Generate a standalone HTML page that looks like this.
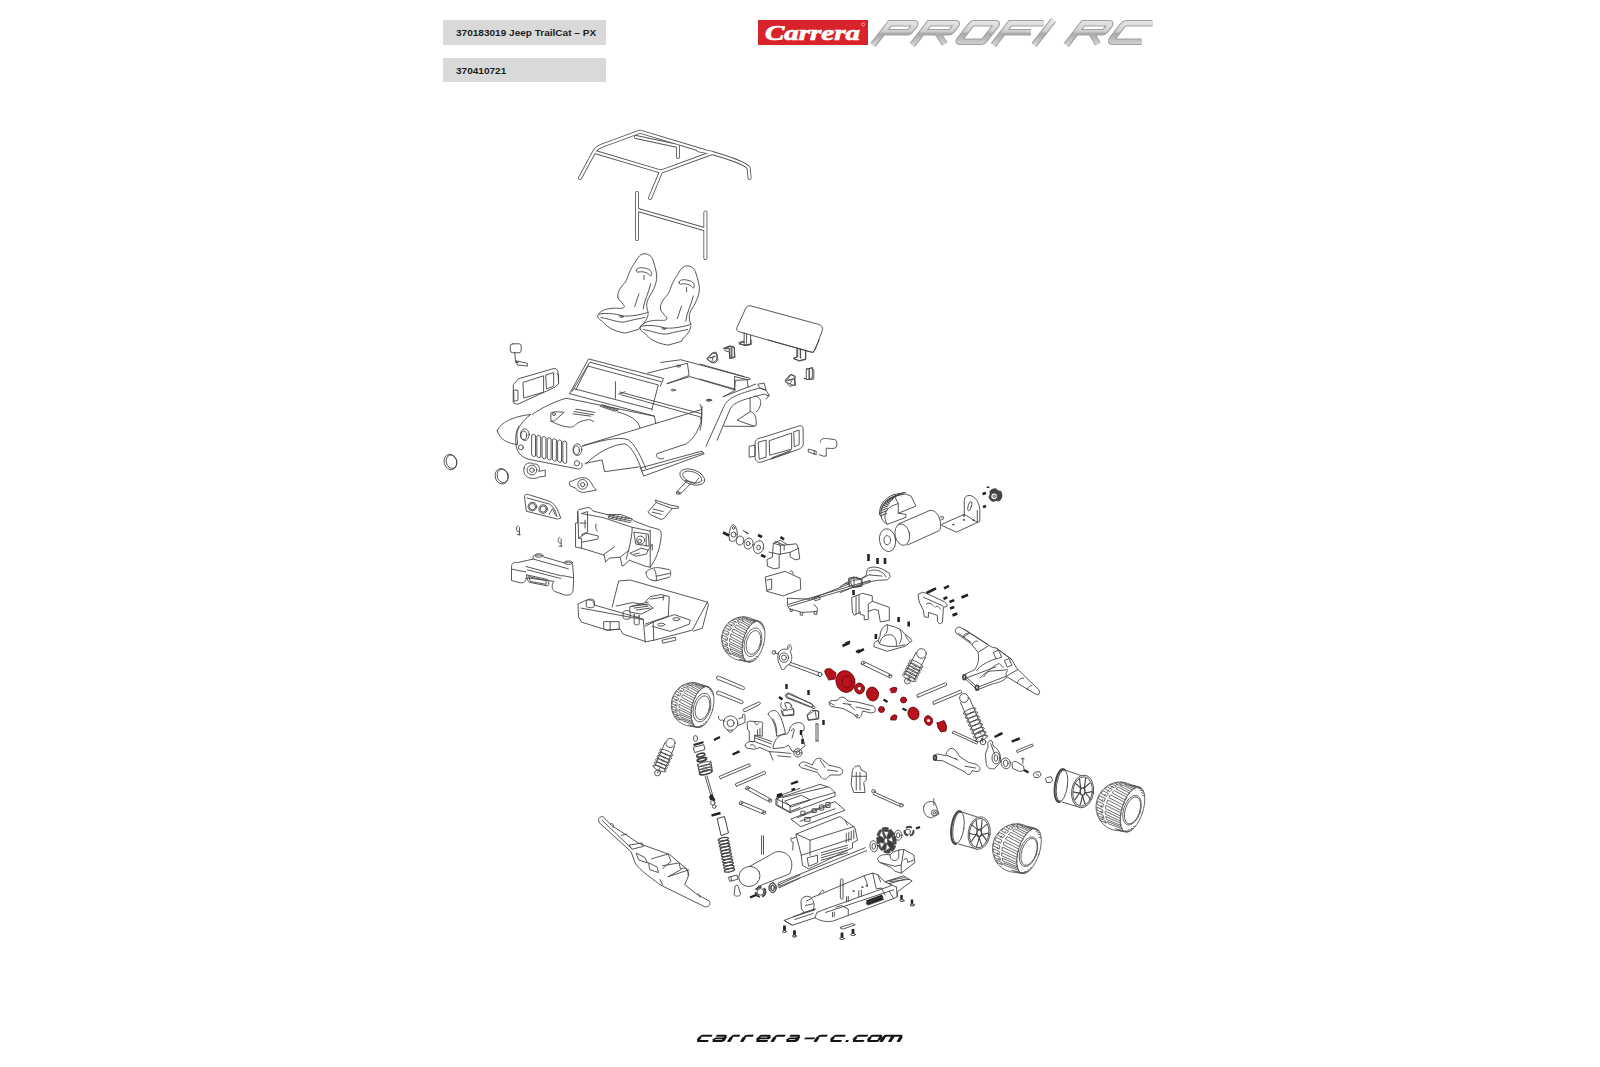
<!DOCTYPE html>
<html><head><meta charset="utf-8">
<style>
html,body{margin:0;padding:0;background:#fff;width:1600px;height:1067px;overflow:hidden;position:relative;font-family:"Liberation Sans",sans-serif;}
.box{position:absolute;left:443px;width:163px;background:#d9d9d9;color:#1c1c1c;font-weight:bold;font-size:9.3px;line-height:25px;}
.box span{position:absolute;left:12.5px;top:0.5px;white-space:nowrap;transform-origin:0 50%;transform:scaleX(1.08);}
svg{position:absolute;left:0;top:0;}
#draw *,defs g[id] *{vector-effect:non-scaling-stroke;}
.tube{stroke:#555;stroke-width:4;}
.tubein{stroke:#fff;stroke-width:2.3;}
</style></head><body>
<div class="box" style="top:20px;height:25px;"><span>370183019 Jeep TrailCat – PX</span></div>
<div class="box" style="top:58px;height:24px;line-height:24px;"><span>370410721</span></div>
<svg width="1600" height="1067" viewBox="0 0 1600 1067">
<defs>
<linearGradient id="silver" gradientUnits="userSpaceOnUse" x1="0" y1="-25" x2="0" y2="0">
<stop offset="0" stop-color="#e8e8e8"/><stop offset="0.45" stop-color="#cfcfcf"/><stop offset="0.55" stop-color="#a9a9a9"/><stop offset="1" stop-color="#d5d5d5"/>
</linearGradient>
<g id="cage"><path d="M50,290 L125,152 Q135,138 160,128 L350,58 L672,155"/>
<path d="M125,160 L455,258 L710,165 Q870,210 893,240 L898,290"/>
<path d="M455,258 L400,390"/>
<path d="M330,85 L540,130 L540,185"/>
<path d="M640,150 L712,165"/>
<path d="M335,365 V595 M677,462 V690 M340,450 L670,545"/></g>
</defs>
<!-- LOGO -->
<g id="logo">
<rect x="758" y="20" width="110" height="25" fill="#d8232a"/>
<text x="765" y="40" textLength="95" lengthAdjust="spacingAndGlyphs" font-family="Liberation Serif" font-style="italic" font-weight="bold" font-size="21" fill="#fff" stroke="#fff" stroke-width="0.7">Carrera</text>
<circle cx="863" cy="24.5" r="1.6" fill="none" stroke="#fff" stroke-width="0.5"/>
<g transform="translate(0,45) skewX(-38)" fill="none" stroke-linejoin="miter">
<defs><g id="profi">
<path d="M873,0 V-21.7 H897.5 Q899.2,-21.7 899.2,-20 V-14.5 Q899.2,-12.8 897.5,-12.8 H873"/>
<path d="M912.3,0 V-21.7 H939 Q940.7,-21.7 940.7,-20 V-14.5 Q940.7,-12.8 939,-12.8 H912.3 M927,-12.8 L944,-1"/>
<path d="M957,-21.7 H979 Q980.7,-21.7 980.7,-20 V-5 Q980.7,-3.3 979,-3.3 H957 Q955.3,-3.3 955.3,-5 V-20 Q955.3,-21.7 957,-21.7 Z"/>
<path d="M993.3,0 V-21.7 H1026.5 M993.3,-12.8 H1021"/>
<path d="M1034,0 V-25"/>
<path d="M1066.3,0 V-21.7 H1092.5 Q1094.2,-21.7 1094.2,-20 V-14.5 Q1094.2,-12.8 1092.5,-12.8 H1066.3 M1081,-12.8 L1097,-1"/>
<path d="M1135.5,-21.7 H1110 Q1107.3,-21.7 1107.3,-19 V-6 Q1107.3,-3.3 1110,-3.3 H1139"/>
</g></defs>
<use href="#profi" stroke="#a0a0a0" stroke-width="6.4"/>
<use href="#profi" stroke="url(#silver)" stroke-width="4.4"/>
</g>
</g>

<!-- FOOTER -->
<g id="footer" fill="none" stroke="#141414" stroke-width="1.9" stroke-linejoin="round">
<path transform="translate(695.75,1042) skewX(-31.5)" d="M12.5,-6.2 H2.6 Q1.3,-6.2 1.3,-5 V-2.2 Q1.3,-0.95 2.6,-0.95 H11.9"/>
<path transform="translate(711.25,1042) skewX(-31.5)" d="M1.2,-6.2 H9.8 Q11.0,-6.2 11.0,-5 V-0.3 M11.0,-0.95 H2.4 Q1.3,-0.95 1.3,-2.1 V-2.5 Q1.3,-3.6 2.4,-3.6 H11.0"/>
<path transform="translate(727,1042) skewX(-31.5)" d="M1.5,-0.1 V-4.9 Q1.5,-6.2 3.1,-6.2 H9"/>
<path transform="translate(740,1042) skewX(-31.5)" d="M1.5,-0.1 V-4.9 Q1.5,-6.2 3.1,-6.2 H9.5"/>
<path transform="translate(755,1042) skewX(-31.5)" d="M12.1,-0.95 H2.6 Q1.3,-0.95 1.3,-2.2 V-5 Q1.3,-6.2 2.6,-6.2 H10.0 Q11.2,-6.2 11.2,-5 V-3.6 H1.3"/>
<path transform="translate(770.5,1042) skewX(-31.5)" d="M1.5,-0.1 V-4.9 Q1.5,-6.2 3.1,-6.2 H11"/>
<path transform="translate(785,1042) skewX(-31.5)" d="M1.2,-6.2 H9.3 Q10.5,-6.2 10.5,-5 V-0.3 M10.5,-0.95 H2.4 Q1.3,-0.95 1.3,-2.1 V-2.5 Q1.3,-3.6 2.4,-3.6 H10.5"/>
<path transform="translate(802,1042) skewX(-31.5)" d="M0.5,-3.6 H10.5"/>
<path transform="translate(813.5,1042) skewX(-31.5)" d="M1.5,-0.1 V-4.9 Q1.5,-6.2 3.1,-6.2 H10"/>
<path transform="translate(829,1042) skewX(-31.5)" d="M12.5,-6.2 H2.6 Q1.3,-6.2 1.3,-5 V-2.2 Q1.3,-0.95 2.6,-0.95 H11.9"/>
<path transform="translate(844.8,1042) skewX(-31.5)" d="M0.3,-0.95 H3"/>
<path transform="translate(851.5,1042) skewX(-31.5)" d="M12.5,-6.2 H2.6 Q1.3,-6.2 1.3,-5 V-2.2 Q1.3,-0.95 2.6,-0.95 H11.9"/>
<path transform="translate(866,1042) skewX(-31.5)" d="M2.6,-6.2 H10.399999999999999 Q11.7,-6.2 11.7,-5 V-2.2 Q11.7,-0.95 10.399999999999999,-0.95 H2.6 Q1.3,-0.95 1.3,-2.2 V-5 Q1.3,-6.2 2.6,-6.2 Z"/>
<path transform="translate(879.5,1042) skewX(-31.5)" d="M1.5,-0.1 V-6.2 H17.2 Q18.5,-6.2 18.5,-5 V-0.1 M10.0,-6.2 V-0.1"/>
<g stroke-width="3.5" stroke-linecap="butt"><path transform="translate(695.75,1042) skewX(-31.5)" d="M1.3,-4.8 V-2.3"/>
<path transform="translate(711.25,1042) skewX(-31.5)" d="M11.0,-5 V-1 M1.3,-2.4 V-2.1"/>
<path transform="translate(727,1042) skewX(-31.5)" d="M1.5,-0.3 V-4.8"/>
<path transform="translate(740,1042) skewX(-31.5)" d="M1.5,-0.3 V-4.8"/>
<path transform="translate(755,1042) skewX(-31.5)" d="M1.3,-4.8 V-2.3 M11.2,-4.9 V-3.6"/>
<path transform="translate(770.5,1042) skewX(-31.5)" d="M1.5,-0.3 V-4.8"/>
<path transform="translate(785,1042) skewX(-31.5)" d="M10.5,-5 V-1 M1.3,-2.4 V-2.1"/>
<path transform="translate(813.5,1042) skewX(-31.5)" d="M1.5,-0.3 V-4.8"/>
<path transform="translate(829,1042) skewX(-31.5)" d="M1.3,-4.8 V-2.3"/>
<path transform="translate(851.5,1042) skewX(-31.5)" d="M1.3,-4.8 V-2.3"/>
<path transform="translate(866,1042) skewX(-31.5)" d="M1.3,-4.8 V-2.3 M11.7,-4.8 V-2.3"/>
<path transform="translate(879.5,1042) skewX(-31.5)" d="M1.5,-0.3 V-6 M18.5,-5 V-0.3 M10.0,-6 V-0.3"/></g>
</g>

<g id="draw" fill="none" stroke="#444" stroke-width="0.9" stroke-linejoin="round" stroke-linecap="round">
<!-- A: roll cage -->
<g transform="translate(570 120) scale(0.2)">
<use href="#cage" class="tube"/><use href="#cage" class="tubein"/>
</g>
<!-- B: seats + board -->
<!-- seats -->
<g transform="translate(590 250) scale(0.08435)">
<g id="seat2">
<path d="M330,560 C320,480 380,430 420,380 C450,330 460,250 520,170 C560,110 580,50 640,45 C700,45 740,80 750,130 C770,200 800,280 790,350 C780,420 740,500 700,560 C670,610 660,660 690,740"/>
<path d="M330,560 C340,600 400,640 410,670 C400,700 340,690 300,690 C200,690 100,720 90,790 C95,820 130,830 150,850 C190,900 260,960 420,985 L580,940 L600,900 C640,880 690,800 690,760"/>
<path d="M110,760 C200,740 320,760 380,780 C450,790 550,780 690,740 M130,800 C250,820 350,870 420,850 C500,830 600,810 650,800"/>
<path d="M550,240 C560,200 620,200 700,230 C730,250 740,290 720,310 C700,280 650,250 580,260 C560,270 550,260 550,240 Z"/>
<path d="M640,300 V350 M580,520 L530,670 M720,400 C700,500 640,600 630,700 M350,780 L400,790 L370,800 Z"/>
</g>
<use href="#seat2" transform="translate(505 143)"/>
</g>

<g transform="translate(580 240) scale(0.1625)">

<path d="M1050,405 Q1030,400 1020,420 L965,540 Q960,560 980,565 L1420,690 Q1435,695 1445,680 L1490,560 Q1500,530 1470,520 Z"/>
<path d="M1010,570 V628 L980,635 L1015,650 L1050,640 V585 M1025,578 V635"/>
<path d="M1340,665 V720 L1312,728 L1350,742 L1388,732 V680 M1358,670 V725"/>
<path d="M785,730 L820,695 L845,705 L840,740 L815,755 Z M805,725 L830,715"/>
<path d="M885,665 L925,652 L950,660 V718 L920,728 V690 L890,680 M935,660 V720"/>
<path d="M1265,870 L1300,828 L1325,838 L1320,890 L1295,900 Z M1280,865 L1310,855"/>
<path d="M1395,795 L1430,785 V850 L1400,858 L1380,850 M1410,800 V850"/>
</g>
<!-- C: jeep body -->
<g transform="translate(490 330) scale(0.1625)">
<path d="M490,392 L607,178 L1068,298 L1048,345"/>
<path d="M505,378 L615,198 L1052,318"/>
<path d="M528,368 L602,222 L1036,338 L995,492"/>
<path d="M520,362 L1000,488"/>
<path d="M490,392 L1012,530 L1020,575"/>
<path d="M260,520 C330,470 420,432 470,420 L1010,530"/>
<path d="M570,712 L1020,575 M783,503 C868,526 914,559 923,601"/>
<path d="M377,510 L397,503 L456,506 L397,559 L377,562 Z M377,562 C410,580 450,595 489,598 C505,598 515,594 521,588 C535,575 555,558 606,552 C620,552 630,558 639,565"/>
<circle cx="394" cy="518" r="9"/>
<path d="M528,487 L645,507 M518,502 L638,522 M511,516 L620,530"/>
<path d="M690,460 L790,490 L770,500 L680,470 Z M700,470 L780,495"/>
<path d="M45,620 C60,570 150,530 250,520 C200,560 170,600 165,640 L170,705 C120,700 60,680 45,620 Z"/>
<path d="M160,705 C165,760 200,790 260,800 L540,855 C560,860 572,840 565,820"/>
<path d="M160,705 C155,660 160,620 178,592"/>
<ellipse cx="214" cy="644" rx="27" ry="36"/><ellipse cx="208" cy="648" rx="18" ry="26"/>
<ellipse cx="538" cy="736" rx="27" ry="36"/><ellipse cx="532" cy="740" rx="18" ry="26"/>
<circle cx="190" cy="722" r="15"/><circle cx="535" cy="820" r="16"/>
<path d="M258,645 Q270,635 280,648 V775 Q270,785 258,772 Z"/>
<path d="M290,652 Q302,642 312,655 V782 Q302,792 290,779 Z"/>
<path d="M322,659 Q334,649 344,662 V789 Q334,799 322,786 Z"/>
<path d="M354,666 Q366,656 376,669 V796 Q366,806 354,793 Z"/>
<path d="M386,673 Q398,663 408,676 V803 Q398,813 386,800 Z"/>
<path d="M418,680 Q430,670 440,683 V810 Q430,820 418,807 Z"/>
<path d="M450,687 Q462,677 472,690 V817 Q462,827 450,814 Z"/>
<path d="M570,715 C650,690 790,650 850,675 C890,700 930,780 960,855"/>
<path d="M590,825 C650,760 750,705 830,700 C870,715 910,790 935,865"/>
<path d="M585,820 L690,800 L705,872 L920,842"/>
<path d="M928,848 L1305,745 L1318,762 L948,898 Z M935,868 L1312,755"/>
<path d="M1020,575 L1300,490"/>
<path d="M1030,760 L1210,700 C1260,660 1280,620 1300,560 L1305,470"/>
<path d="M1025,765 C1020,790 1050,800 1070,790"/>
<path d="M1050,200 L1175,183 L1600,298"/>
<path d="M970,265 L1215,205 L1225,280 L1090,330"/>
<path d="M1090,330 L1230,287 L1505,368 L1510,310 L1600,305"/>
<path d="M800,382 L1300,515 M805,398 L1295,535 L1300,560"/>
<path d="M1440,410 L1510,370"/>
<path d="M772,318 V420 M790,395 L830,380"/>
<ellipse cx="1160" cy="222" rx="12" ry="6"/><ellipse cx="1128" cy="370" rx="14" ry="5"/><ellipse cx="1345" cy="432" rx="14" ry="5"/>
<!-- mirror -->
<path d="M140,85 H180 Q192,85 192,100 V125 Q192,140 178,140 H140 Q125,140 125,125 V100 Q125,85 140,85 Z"/>
<path d="M152,140 L158,200 H175 M165,190 L230,205 V222 L170,215 Z"/>
<!-- door frame left -->
<path d="M145,335 L175,300 L400,235 L418,250 L422,330 L400,352 L168,458 L145,448 Z"/>
<path d="M205,322 L330,282 V382 L210,418 Z M345,276 L392,262 V345 L350,362 Z M148,370 H172 V432 L150,438 Z M412,270 L422,275 V325"/>
<!-- headlight ring + buckets -->
<ellipse cx="72" cy="900" rx="40" ry="48" transform="rotate(-15 72 900)"/><ellipse cx="78" cy="898" rx="33" ry="42" transform="rotate(-15 78 898)"/>
<path d="M210,850 C210,820 245,810 270,825 C300,820 310,850 300,870 L340,862 V900 L300,905 C290,915 250,918 230,905 C210,895 205,870 210,850 Z"/>
<circle cx="258" cy="862" r="30"/><circle cx="258" cy="862" r="14"/>
<path d="M490,935 L540,915 C565,905 600,905 620,935 L640,970 L655,985 L600,995 C570,1005 540,995 530,975 L495,960 Z"/>
<circle cx="570" cy="950" r="30"/><circle cx="570" cy="952" r="13"/>
<!-- steering wheel -->
<ellipse cx="1245" cy="905" rx="80" ry="45" transform="rotate(20 1245 905)"/>
<ellipse cx="1245" cy="905" rx="62" ry="32" transform="rotate(20 1245 905)"/>
<path d="M1210,930 L1150,995 L1170,1010 L1235,945 M1200,925 L1260,945 L1285,910"/>
<ellipse cx="1158" cy="1003" rx="12" ry="8"/>
</g>
<ellipse cx="450.5" cy="462" rx="6.3" ry="7.8" transform="rotate(-15 450.5 462)"/><ellipse cx="451.5" cy="461.7" rx="5.2" ry="6.8" transform="rotate(-15 451.5 461.7)"/>
<!-- D: tub right -->
<g transform="translate(700 340) scale(0.10025)">
<path d="M0,240 L440,365 M0,390 L350,490 M345,365 L470,395 L480,470 M345,365 V495"/>
<path d="M60,1060 L240,660 C280,580 350,545 600,478 L660,505 L690,550 L660,590"/>
<path d="M170,1000 L300,690 C335,625 400,600 640,540 L690,560"/>
<path d="M230,565 L555,440 M580,440 L640,430 L660,500 L600,480 Z"/>
<path d="M500,580 V715 C545,720 565,770 560,850 L535,862 L240,860 M500,715 L370,800 L540,860 M540,560 C620,560 630,650 560,720"/>
<path d="M0,640 C20,650 30,800 0,900"/>
<ellipse cx="92" cy="600" rx="25" ry="8"/>
<path d="M70,185 L120,130 L160,120 L180,200 L150,230 L100,215 Z M90,180 L150,165 M120,210 L130,180"/>
<path d="M240,85 L290,60 L340,70 L350,175 L300,185 L290,80 Z M310,70 V170 M240,85 L300,90"/>
<path d="M390,25 L440,10 V50 L510,40 V0 M390,40 L460,55 L510,45"/>
<path d="M680,0 L1130,125 L1190,0"/>
<path d="M965,85 V170 L930,185 L990,210 L1055,195 V100 M1000,95 V180"/>
<path d="M850,400 L900,345 L935,355 L955,450 L935,455 L880,430 Z M870,400 L940,390 M900,435 L915,405"/>
<path d="M1060,290 L1120,280 L1135,295 V390 L1080,395 L1040,385 M1060,290 V380 M1090,290 V385"/>
</g>
<!-- E: right door frame, mirror -->
<g transform="translate(740 400) scale(0.10025)">
<path d="M150,440 C150,400 170,382 220,375 L590,258 C620,250 630,270 630,300 V440 C630,470 600,490 560,500 L210,620 C175,630 150,600 150,570 Z"/>
<path d="M185,420 L260,400 V570 L195,590 Z M295,405 L515,330 V490 L300,550 Z M540,315 L590,300 V445 L545,465 Z M95,460 L150,450 V560 L95,570 Z M310,590 L500,520 M320,575 L505,505"/>
<path d="M800,420 C800,390 830,380 870,385 L945,395 C965,400 968,420 965,460 C962,480 940,485 900,483 L860,480 V560 L830,560 L790,545 M685,490 L760,510 V545 L685,520 Z M740,505 V545"/>
</g>
<!-- F: tail light bar, clips, bumper, dashboard, pad, handle -->
<g transform="translate(490 480) scale(0.14375)">
<path d="M240,112 C240,95 260,98 280,105 L420,150 C460,170 480,230 492,265 L470,272 L255,218 Z M258,125 L415,168 C445,185 460,225 465,255"/>
<circle cx="295" cy="185" r="30"/><circle cx="295" cy="185" r="22"/><circle cx="370" cy="202" r="30"/><circle cx="370" cy="202" r="22"/>
<path d="M410,240 L435,200 L455,245"/>
<path d="M195,318 C178,325 180,365 200,360 M205,330 V382 M190,380 H210"/>
<path d="M485,398 C468,405 470,445 490,440 M495,410 V462 M480,460 H500"/>
<path d="M150,600 C150,575 170,570 190,575 L300,550 V530 C320,518 360,518 372,535 L520,578 C540,565 570,570 575,590 L582,680 L578,765 C575,795 550,805 520,800 L450,775 C430,765 425,730 445,705 L250,680 C252,700 240,718 210,715 L152,700 Z"/>
<path d="M300,550 L545,618 M250,602 L500,668 M260,625 L492,685 M152,620 L250,640 M505,665 L580,680"/>
<path d="M255,660 L400,692 C412,700 412,730 402,737 L275,712 C260,705 255,680 255,660 Z M272,672 L390,700 V726 L282,706 Z"/>
<ellipse cx="340" cy="525" rx="28" ry="12"/><ellipse cx="545" cy="575" rx="28" ry="12"/>

</g>
<!-- R: dashboard, pad, handle -->
<g transform="translate(560 490) scale(0.10025)">
<path d="M175,215 L190,195 L280,175 C300,172 320,195 330,210 L470,245 L610,245 L720,290 L740,310 L900,370 L940,380 L990,395 C1010,410 1015,440 1005,500 C990,600 960,690 900,770"/>
<path d="M175,215 L175,330 L155,330 V570 L215,580 V485 L185,480 L180,230 Z M215,235 L275,215 V420 L215,445"/>
<path d="M185,480 L260,430 L385,460 L375,490 L225,520 M260,330 H200 M250,300 V380 M360,340 C350,370 360,400 370,410"/>
<path d="M215,580 L440,650 L455,720 L490,680 L600,670 L620,760 L650,740 L690,700 L850,760 L900,770"/>
<path d="M215,235 L430,275 L720,372 L900,410 M440,650 V640 L545,565 M600,670 L690,600"/>
<path d="M720,372 C720,450 700,550 660,690 M900,400 V770 M880,600 L920,540 V600"/>
<path d="M740,420 L880,440 L890,560 L760,540 Z M860,450 V560"/>
<circle cx="805" cy="500" r="40"/><circle cx="795" cy="510" r="18"/>
<path d="M700,630 L810,580 L880,600 L860,640 L760,660 Z M740,640 L790,630"/>
<path d="M470,245 L720,290 M480,262 L712,308 M490,280 L702,325 M500,250 L480,280 M540,250 L520,285 M580,255 L560,290 M620,262 L600,298 M660,272 L640,305"/>
<path d="M860,820 C870,790 940,770 990,775 L1090,795 C1110,810 1110,850 1090,870 L960,905 C900,910 850,870 860,820 Z M940,790 C962,812 962,880 962,905 M962,860 L1100,830"/>
<path d="M880,215 L960,125 L950,100 L1100,150 L1180,165 L1185,180 L1120,185 L1040,280 L1010,295 L900,245 Z M930,190 L1030,215 M920,222 L1010,242 M960,125 L1120,185"/>
</g>
<!-- G: interior tub -->
<g transform="translate(560 570) scale(0.10025)">
<path d="M520,370 L585,110 L700,100 L1470,320 L1480,350 L1420,580 L1330,610"/>
<path d="M180,340 L230,315 C260,295 320,290 340,320 L345,350 L830,490 L850,720"/>
<path d="M180,345 L185,470 L215,520 L470,600 L600,590 L630,640 L860,715 L940,700 L1320,600 L1470,320"/>
<path d="M210,380 L830,495 M850,560 L930,520 L935,700"/>
<path d="M850,320 L900,265 L1010,245 L1090,265 L1080,460 L850,540 M900,290 L1040,270 M1030,255 V300"/>
<path d="M920,522 L1140,445 L1300,500 L1290,540 L1100,612 L920,562"/>
<ellipse cx="1160" cy="490" rx="35" ry="15"/><ellipse cx="1010" cy="545" rx="35" ry="15"/>
<path d="M440,515 H590 V590 L470,600 L440,590 Z M500,520 V600"/>
<path d="M630,420 C630,400 700,400 700,420 V480 C700,495 630,495 630,480 Z"/>
<path d="M700,365 L880,340 L930,380 L810,440 L700,420 Z M740,380 L880,360 M760,400 L900,380 M720,360 L880,320"/>
<path d="M740,440 C740,480 790,480 790,450 V540 C790,550 740,550 740,540 Z"/>
<path d="M1020,700 L1150,670 L1155,700 L1030,730 Z"/>
<path d="M262,305 C262,285 340,285 340,305 V365 C340,380 262,380 262,365 Z"/>
<path d="M560,360 L720,325 L870,350"/>
</g>
<!-- H: motor -->
<g transform="translate(860 470) scale(0.10025)">
<path d="M385,538 L700,402 C770,400 805,480 805,560 C805,590 795,600 790,605 L475,748"/>
<ellipse cx="422" cy="645" rx="72" ry="108" transform="rotate(-12 422 645)"/>
<path d="M800,470 L830,465 V490 L805,500"/>
<ellipse cx="275" cy="700" rx="80" ry="115" transform="rotate(-10 275 700)"/>
<ellipse cx="272" cy="700" rx="33" ry="45"/>
<path d="M210,455 C200,360 260,290 345,262 L455,238 L510,262 L558,360 L382,432 L458,442 V472 L272,542 C235,520 212,492 210,455 Z M272,542 C245,500 240,450 262,410 C285,370 330,350 382,335 L345,262 M382,335 L382,432"/>
<path stroke-width="1" d="M202,458 L266,433 M201,433 L268,406 M203,409 L274,381 M209,386 L282,357 M217,365 L294,335 M228,346 L308,314 M241,328 L325,294 M256,311 L344,277 M274,297 L365,261 M293,284 L388,247 M314,274 L412,235 M337,265 L438,225 M195,445 C188,350 250,275 340,245 L452,225"/>
<path d="M820,540 L1040,442 V302 C1040,262 1080,247 1110,257 C1170,282 1190,342 1195,402 L1195,512 L962,620 L820,555 Z M1170,522 V402 M1040,442 L1170,522"/>
<ellipse cx="1095" cy="360" rx="16" ry="48" transform="rotate(15 1095 360)"/>
<circle cx="930" cy="545" r="6"/><circle cx="1035" cy="498" r="6"/><circle cx="1035" cy="458" r="6"/><circle cx="1130" cy="500" r="6"/>
<circle cx="1350" cy="252" r="60" fill="#444" stroke-dasharray="6 5" stroke-width="2"/><circle cx="1338" cy="262" r="33" fill="#fff"/><circle cx="1338" cy="262" r="12"/>
</g>
<g stroke="#222" stroke-width="2.6" stroke-linecap="butt">
<path d="M868.5,554 V561 M877.5,558 V564 M885,558 V564 M982.5,494 L986,493 M983,507 L986,506 M988,486.5 V488"/>
</g>
<!-- I: servo saver, servo, front linkage -->
<g transform="translate(710 510) scale(0.10025)">
<path d="M195,300 C180,250 200,160 230,145 C260,150 280,220 270,270 C260,310 220,330 195,300 Z"/>
<circle cx="235" cy="245" r="25"/><circle cx="235" cy="180" r="12"/>
<ellipse cx="300" cy="305" rx="38" ry="45" transform="rotate(15 300 305)"/>
<ellipse cx="385" cy="335" rx="45" ry="55" transform="rotate(15 385 335)"/><circle cx="380" cy="335" r="20"/>
<ellipse cx="485" cy="370" rx="50" ry="65" transform="rotate(15 485 370)"/><ellipse cx="485" cy="375" rx="18" ry="25"/>
<path d="M350,220 L385,235 M330,205 L370,225 V240"/>
<path d="M572,492 L622,472 L632,332 L702,302 L772,347 L862,337 L882,382 L895,487 L850,497 L800,467 V422 L690,442 V577 L640,587 L577,562 Z"/>
<path d="M632,332 L702,352 L772,347 M702,352 V442 M650,315 L740,350 V400 M690,330 L700,355 M590,420 L690,442 M800,422 L882,382"/>
<path d="M555,667 L750,612 L900,682 L905,792 L730,857 L570,812 Z M565,700 L615,688 V790 L570,800 M800,612 C810,600 830,610 830,640"/>
<path d="M770,880 L1000,890 L1080,860 L1380,740 L1420,702 L1500,692 L1596,642"/>
<path d="M780,942 L1596,702 M790,962 L1596,722"/>
<path d="M772,880 V950 L790,985 L920,1022 L1070,1012 V980 L1040,942"/>
<path d="M800,985 V1010 L820,1012 V990 M900,1020 V1048 L925,1050 V1025 M1040,1015 V1040 L1065,1042 V1015"/>
<path d="M1390,690 L1460,670 L1510,700 V760 L1430,770 Z M1340,740 L1390,725 V765"/>
<path d="M1040,880 L1090,860 L1100,890 L1050,905 Z"/>
</g>
<g stroke="#222" stroke-width="2.6" stroke-linecap="butt">
<path d="M723,532.5 L729,535.5 M758,535 L762,537 M780.5,537 L784,539.5 M761,555 L765.5,557 M853.5,590 V595"/>
</g>
<!-- J: plate end, bulkheads, gearbox housing -->
<g transform="translate(840 550) scale(0.10025)">
<path d="M0,365 L100,305 L130,272 L200,292 L262,252 L272,192 C300,162 380,162 442,202 L492,232 L502,267 L472,297 L382,302 L252,322 L0,425"/>
<path d="M290,210 C330,190 400,200 440,240 L460,270 M300,250 L420,260"/>
<path d="M90,280 L140,270 L220,290 V360 L160,372 L90,350 Z M140,270 V355"/>
<path d="M120,472 L222,432 L322,457 V512 L492,572 V702 L402,717 L382,602 L342,592 L282,612 V692 L242,697 V652 L202,642 V617 L142,652 L125,622 Z M160,462 V642 M190,450 V632 M322,512 L282,540 V612"/>
<path d="M340,950 C330,930 350,910 380,905 L400,860 C400,800 430,760 470,745 L500,755 C540,760 570,780 600,790 L650,840 L700,880 L718,905 L650,960 L470,1010 L340,965 Z M395,935 C400,880 450,830 520,850 C560,870 570,930 560,962 M600,800 C625,850 615,900 592,935 M650,850 C670,880 680,900 692,912 M470,745 C480,790 470,830 440,850 M380,905 L400,940 L470,960 L560,962 L650,945"/>
<path d="M782,442 L822,422 L862,432 L1042,517 L1067,542 V562 L1032,572 L1022,722 L992,737 L972,712 V652 L882,622 V672 L842,667 L832,602 L792,522 Z M830,470 L1030,560 M860,540 C880,520 920,530 930,560 M950,570 C960,550 990,560 1000,590"/>
</g>
<g stroke="#222" stroke-width="2.6" stroke-linecap="butt">
<path d="M898.6,617 V622 M908.7,621.5 V626.5 M875.9,634 V639 M926.5,593 L936,588.3 M944,588.3 L949,585.8 M943.5,599 L947.3,597.1 M949.5,602 L954.3,600.1 M950,608.5 L954.3,607.1 M952.5,615.5 L956.8,613.7 M961.5,597.5 L968,594.7 M842.5,646 L849.5,642.7 M857.5,652.5 L864,649.2"/>
</g>
<!-- K: front wheels, knuckle, links, diff -->
<g transform="translate(660 600) scale(0.13776)">
<path d="M860,385 C870,360 900,350 925,360 L935,345 C945,330 960,340 955,355 L945,375 C960,400 962,440 940,465 L915,480 L905,500 C895,510 875,505 878,490 L870,470 C855,450 850,410 860,385 Z"/>
<circle cx="900" cy="418" r="34"/><circle cx="900" cy="418" r="18"/>
<path d="M860,392 L835,382 M815,372 C808,385 820,398 835,392 L838,372 Z M925,350 C920,330 940,315 952,330"/>
<path d="M945,452 L1160,528 M938,470 L1155,552"/>
<ellipse cx="1162" cy="540" rx="14" ry="16"/>
<path d="M412,560 C405,575 420,585 430,580 L600,650 C615,655 618,635 605,628 L432,555 C425,550 415,553 412,560 Z"/>
<path d="M412,668 C405,683 420,693 430,688 L590,752 C605,757 608,737 595,730 L432,663 C425,658 415,661 412,668 Z"/>
<path d="M605,795 C598,810 615,815 625,808 L720,760 C735,752 728,738 715,742 L620,785 Z"/>

<path d="M912,692 L932,682 L1102,752 L1112,772 L1092,778 L922,712 Z"/>
<path d="M880,745 C870,770 880,800 920,800 L970,790 V830 L890,840 L880,800 M920,745 C940,740 960,760 950,780"/>
<path d="M1070,830 L1100,800 L1150,805 V860 L1080,870 Z"/>

</g>
<g fill="#b8121c" stroke="#5a0508" stroke-width="0.8">
<path d="M825.5,674 C823,669 827,668 831,669 L836,673 L835,679 L829,680 Z"/>
<ellipse cx="845.5" cy="681.5" rx="9.5" ry="11" transform="rotate(-15 845.5 681.5)"/>
<ellipse cx="859.5" cy="688.5" rx="5" ry="5.5" transform="rotate(-15 859.5 688.5)"/>
<ellipse cx="872.5" cy="694" rx="6" ry="7" transform="rotate(-15 872.5 694)"/>
</g>
<g fill="none" stroke="#5a0a0e" stroke-width="0.7">
<ellipse cx="847" cy="682" rx="5" ry="6"/><circle cx="859.5" cy="688.5" r="2" fill="#fff"/>
</g>
<g stroke="#222" stroke-width="2.4" stroke-linecap="butt">
<path d="M845.5,643.5 L850,641.5 M856,652 L860,650 M786.5,684 V689 M808.5,690 V695 M823.5,720 V725 M779,697 L782.5,699.5"/>
</g>
<g id="tires1" stroke="#555">
<path d="M744.5,660.4 L742.7,660.5 L740.8,660.4 L739.0,660.2 L737.2,659.8 L735.4,659.2 L733.7,658.5 L732.1,657.6 L730.5,656.6 L729.1,655.5 L727.7,654.2 L726.5,652.8 L725.4,651.3 L724.4,649.7 L723.5,648.0 L722.8,646.3 L722.3,644.5 L721.9,642.6 L721.7,640.7 L721.6,638.8 L721.7,636.9 L722.0,635.1 L722.4,633.2 L723.0,631.4 L723.7,629.6 L724.5,627.9 L725.5,626.3 L726.7,624.8 L727.9,623.4 L729.3,622.1 L730.8,620.9 L732.4,619.9 L734.0,619.0 L735.7,618.3 L737.5,617.7 L739.3,617.2 L741.1,617.0 L743.0,616.9 L744.8,616.9 L746.7,617.2 L748.5,617.6 L750.2,618.1 L751.9,618.9 L753.6,619.7 L755.1,620.7"/>
<ellipse cx="753.5" cy="641.7" rx="10.5" ry="21.0" fill="#fff" transform="rotate(15 753.5 641.7)"/>
<ellipse cx="753.0" cy="642.3" rx="8.4" ry="14.7" transform="rotate(15 753.0 642.3)"/>
<ellipse cx="753.5" cy="642.3" rx="6.9" ry="12.2" transform="rotate(15 753.0 642.3)"/>
<path stroke-width="0.85" d="M744.5,659.3 L733.2,655.1 L731.8,653.0 L743.6,657.7 Z M743.0,656.2 L730.9,651.1 L730.1,648.6 L742.5,654.1 Z M742.2,652.3 L729.7,646.5 L729.4,643.7 L742.0,649.8 Z M742.0,647.8 L729.4,641.5 L729.7,638.6 L742.2,645.1 Z M742.5,642.9 L730.2,636.4 L731.0,633.6 L743.1,640.1 Z M743.7,637.9 L731.9,631.5 L733.3,628.9 L744.6,635.2 Z M745.4,633.1 L734.6,627.1 L736.4,624.9 L746.6,630.7 Z M747.6,628.9 L738.0,623.4 L740.1,621.8 L749.0,626.8 Z M750.2,625.4 L741.9,620.7 L744.2,619.7 L751.7,623.9 Z M753.0,622.9 L746.1,619.2 L748.5,618.9 L754.5,622.0 Z"/>
<path stroke-width="0.85" d="M731.0,654.3 L726.8,652.7 L725.1,650.3 L729.5,652.1 Z M728.6,650.2 L724.1,648.3 L723.1,645.5 L727.7,647.6 Z M727.2,645.4 L722.6,643.2 L722.2,640.3 L726.9,642.6 Z M726.9,640.3 L722.3,638.0 L722.6,635.0 L727.3,637.4 Z M727.8,635.1 L723.2,632.7 L724.2,630.0 L728.7,632.4 Z M729.7,630.3 L725.3,627.9 L727.0,625.4 L731.1,627.7 Z M732.5,625.9 L728.5,623.7 L730.7,621.7 L734.4,623.8 Z M736.1,622.4 L732.5,620.3 L735.1,618.9 L738.4,620.8 Z M740.3,619.8 L737.2,618.1 L740.0,617.4 L742.8,618.9 Z M744.8,618.5 L742.2,617.1 L745.1,617.1 L747.3,618.3 Z M730.5,654.4 L729.6,653.3 M727.9,650.3 L727.3,648.9 M726.2,645.5 L726.0,644.0 M725.7,640.4 L725.8,638.8 M726.4,635.1 L726.8,633.6 M728.1,630.1 L728.9,628.7 M730.9,625.7 L731.9,624.5 M734.5,622.1 L735.7,621.2 M738.7,619.5 L740.0,618.9"/>
<path d="M757.8,656.8 L756.3,656.6 M756.1,658.8 L754.0,658.5 M754.3,660.3 L751.6,659.9 M752.5,661.4 L749.0,660.8 M750.7,662.0 L746.5,661.3 M749.0,662.1 L744.0,661.2 M747.4,661.7 L741.6,660.5 M745.9,660.9 L739.3,659.4 M755.5,621.6 L748.7,619.2 M757.3,621.2 L751.2,619.1 M758.9,621.4 L753.7,619.5 M760.5,622.1 L756.0,620.4 M761.8,623.2 L758.2,621.8 M762.9,624.9 L760.0,623.6 M763.9,626.9 L761.6,625.9 M764.5,629.3 L762.9,628.5"/>
<path d="M693.8,726.1 L692.0,726.2 L690.1,726.1 L688.3,725.9 L686.6,725.5 L684.8,725.0 L683.2,724.3 L681.6,723.4 L680.0,722.4 L678.6,721.3 L677.3,720.0 L676.1,718.6 L675.0,717.1 L674.0,715.5 L673.2,713.9 L672.5,712.1 L672.0,710.3 L671.6,708.5 L671.4,706.6 L671.4,704.7 L671.5,702.8 L671.7,700.9 L672.1,699.0 L672.7,697.2 L673.4,695.5 L674.3,693.8 L675.3,692.1 L676.4,690.6 L677.7,689.2 L679.0,687.9 L680.5,686.7 L682.0,685.7 L683.6,684.8 L685.3,684.0 L687.1,683.5 L688.9,683.0 L690.7,682.8 L692.5,682.6 L694.3,682.7 L696.1,682.9 L697.9,683.3 L699.6,683.9 L701.3,684.6 L702.9,685.4 L704.4,686.4"/>
<ellipse cx="702.5" cy="707.0" rx="10.5" ry="21.0" fill="#fff" transform="rotate(15 702.5 707.0)"/>
<ellipse cx="702.0" cy="707.6" rx="8.4" ry="14.7" transform="rotate(15 702.0 707.6)"/>
<ellipse cx="702.5" cy="707.6" rx="6.9" ry="12.2" transform="rotate(15 702.0 707.6)"/>
<path stroke-width="0.85" d="M693.5,724.6 L682.5,720.7 L681.2,718.6 L692.6,723.0 Z M692.0,721.5 L680.4,716.8 L679.5,714.2 L691.5,719.4 Z M691.2,717.6 L679.1,712.2 L678.8,709.4 L691.0,715.1 Z M691.0,713.1 L678.9,707.1 L679.2,704.3 L691.2,710.4 Z M691.5,708.2 L679.6,702.0 L680.5,699.2 L692.1,705.4 Z M692.7,703.2 L681.4,697.1 L682.8,694.6 L693.6,700.5 Z M694.4,698.4 L684.0,692.7 L685.8,690.5 L695.6,696.0 Z M696.6,694.2 L687.4,689.0 L689.5,687.4 L698.0,692.1 Z M699.2,690.7 L691.3,686.3 L693.6,685.3 L700.7,689.2 Z M702.0,688.2 L695.4,684.8 L697.8,684.4 L703.5,687.3 Z"/>
<path stroke-width="0.85" d="M680.4,719.9 L676.4,718.5 L674.8,716.1 L679.0,717.7 Z M678.1,715.8 L673.8,714.1 L672.8,711.3 L677.2,713.2 Z M676.8,711.1 L672.3,709.1 L672.0,706.1 L676.5,708.3 Z M676.5,706.0 L672.0,703.8 L672.4,700.8 L676.8,703.1 Z M677.3,700.8 L672.9,698.6 L674.0,695.8 L678.3,698.1 Z M679.2,695.9 L675.0,693.7 L676.7,691.2 L680.7,693.4 Z M682.0,691.6 L678.2,689.5 L680.3,687.5 L683.9,689.5 Z M685.6,688.0 L682.2,686.1 L684.7,684.7 L687.9,686.5 Z M689.7,685.5 L686.8,683.9 L689.5,683.1 L692.2,684.6 Z M694.2,684.1 L691.7,682.9 L694.5,682.8 L696.7,683.9 Z M680.0,720.1 L679.1,719.0 M677.4,716.0 L676.8,714.6 M675.8,711.2 L675.5,709.7 M675.3,706.1 L675.4,704.5 M676.0,700.9 L676.4,699.3 M677.7,695.9 L678.4,694.5 M680.4,691.4 L681.4,690.2 M684.0,687.8 L685.2,686.9 M688.1,685.2 L689.5,684.6"/>
<path d="M706.8,722.1 L705.4,722.1 M705.1,724.1 L703.1,724.0 M703.3,725.6 L700.7,725.4 M701.5,726.7 L698.2,726.3 M699.7,727.3 L695.6,726.8 M698.0,727.4 L693.2,726.7 M696.4,727.0 L690.8,726.1 M694.9,726.2 L688.6,725.0 M704.5,686.9 L698.0,684.8 M706.3,686.5 L700.5,684.6 M707.9,686.7 L702.9,685.0 M709.5,687.4 L705.2,685.9 M710.8,688.5 L707.3,687.3 M711.9,690.2 L709.2,689.1 M712.9,692.2 L710.7,691.3 M713.5,694.6 L712.0,693.9"/>
</g>
<!-- arms -->
<g transform="translate(820 690) scale(0.05)">
<path d="M185,250 C190,210 240,200 280,215 L360,200 C380,150 440,120 500,160 L560,220 L740,240 L1060,320 C1110,340 1120,410 1090,440 L1020,460 L850,420 C840,480 820,560 760,560 C720,560 700,520 690,490 L460,370 L230,330 C200,320 185,290 185,250 Z M460,270 L620,290 M560,280 L690,390 M720,340 L1000,400 M200,260 L280,300"/>
<circle cx="735" cy="510" r="22"/>
</g>
<g transform="translate(930 740) scale(0.04375)">
<path d="M80,400 C80,340 130,320 190,320 L360,360 C370,260 430,190 510,190 C560,200 620,280 680,380 L880,510 L1040,550 C1130,590 1170,660 1120,710 L1050,720 L960,700 C950,760 900,800 850,790 L800,730 L280,470 L150,470 C100,460 80,430 80,400 Z M380,350 L600,440 M580,420 L640,460 M800,600 L1040,640"/>
<ellipse cx="115" cy="405" rx="30" ry="50" stroke-width="2"/>
</g>
<!-- front bulkhead detail -->
<g transform="translate(735 700) scale(0.05938)">
<path d="M210,370 L250,355 L430,370 C470,360 480,400 460,420 L460,610 L330,590 V700 L260,700 L240,690 V520 L215,500 Z M330,380 C340,420 380,430 390,400 M380,500 V590 M420,480 V600"/>
<path d="M170,770 C180,720 220,700 260,700 L330,700 L600,800 M170,770 L200,810 L330,830 L420,800 L580,870 L640,1011 M260,760 C300,740 340,760 340,800"/>
<path d="M330,600 L620,700 M340,640 L610,740"/>
<path d="M560,240 C560,200 620,170 680,180 C740,200 800,330 850,560 L700,610 C690,450 640,340 600,290 C580,270 560,260 560,240 Z M640,320 C680,380 700,450 705,560"/>
<path d="M920,500 C930,420 1000,380 1090,380 C1150,390 1180,440 1160,510 L1110,540 L1180,770 L1050,880 L960,860 L900,760 L830,800 L640,820 C650,700 700,630 780,590 L880,570 Z M950,520 C960,480 1000,470 1000,500 L960,640"/>
<circle cx="1060" cy="890" r="70"/><circle cx="1060" cy="890" r="35"/>
<path d="M740,880 L940,900 M720,940 L940,960 M580,870 L740,880"/>
</g>
<!-- S: front arm, center mount, knuckle -->
<g transform="translate(680 660) scale(0.125)">
<path d="M955,840 C960,815 990,810 1010,820 L1060,840 C1070,800 1100,775 1130,790 L1190,840 L1270,860 C1310,870 1310,910 1280,920 L1200,920 L1180,940 C1170,960 1140,955 1130,940 L1100,900 L1000,870 C970,865 955,855 955,840 Z M1000,840 L1100,880 M1120,800 L1160,860 M1180,880 L1260,890"/>
<path d="M1380,880 C1390,850 1420,840 1440,850 L1450,880 L1490,900 V960 L1470,980 L1480,1060 L1390,1060 L1370,1000 Z M1410,900 V1040 M1440,900 V1040 M1380,930 L1490,930"/>
<circle cx="405" cy="505" r="58"/><circle cx="405" cy="505" r="28"/>
<path d="M310,450 C300,470 320,490 340,480 L360,490 M470,470 L500,460 V440 C500,430 520,430 520,445 V500 L462,525 M380,560 C390,585 420,585 420,560"/>
</g>
<!-- L: rear bumper mount, shocks, pins, red diff -->
<g transform="translate(950 622) scale(0.07027)">
<path d="M80,150 C60,110 100,62 150,75 L550,330 L600,358 L660,372 L880,535 L950,660 L1260,960 C1290,1000 1270,1045 1225,1030 L810,780 C780,830 700,862 600,882 L400,962 L360,942 L190,782 L200,750 L350,680 C395,620 420,540 400,432 L300,310 Z"/>
<path d="M190,210 C200,170 240,150 265,165 M190,215 L265,165 M320,320 C330,280 370,262 395,275 M410,425 L545,340 M960,862 C970,820 1010,790 1050,800 M1100,962 C1110,920 1140,900 1165,905 M820,760 L960,680 M200,100 L540,320 M120,160 L300,290"/>
<path d="M620,430 L690,400 L735,500 L665,525 Z M780,545 L840,520 L880,615 L820,640 Z M660,372 L880,535"/>
<path d="M380,690 C420,620 560,550 660,520 M480,780 C530,700 620,620 700,590 L760,650 M430,800 C470,750 500,720 560,700 L820,680 M250,790 L650,640 M400,925 L800,772 M360,942 V900 L200,760 M800,772 C790,740 800,720 815,700"/>
<ellipse cx="205" cy="785" rx="22" ry="35" stroke-width="1.6"/><ellipse cx="385" cy="935" rx="22" ry="35" stroke-width="1.6"/>
</g>
<path d="M916.0,652.4 L904.4,675.3 M925.6,657.3 L914.0,680.1"/>
<circle cx="921.5" cy="653.5" r="4.8"/>
<ellipse cx="916.2" cy="664.0" rx="2.2" ry="7.4" transform="rotate(117.0 916.2 664.0)"/>
<ellipse cx="914.8" cy="666.7" rx="2.2" ry="7.4" transform="rotate(117.0 914.8 666.7)"/>
<ellipse cx="913.4" cy="669.5" rx="2.2" ry="7.4" transform="rotate(117.0 913.4 669.5)"/>
<ellipse cx="912.0" cy="672.2" rx="2.2" ry="7.4" transform="rotate(117.0 912.0 672.2)"/>
<ellipse cx="910.6" cy="675.0" rx="2.2" ry="7.4" transform="rotate(117.0 910.6 675.0)"/>
<ellipse cx="909.2" cy="677.7" rx="2.2" ry="7.4" transform="rotate(117.0 909.2 677.7)"/>
<path d="M909.2,677.7 L907.5,681.0"/>
<circle cx="907.5" cy="681.0" r="3.0"/>
<path d="M960.4,702.2 L976.9,740.4 M969.5,698.2 L986.0,736.5"/>
<circle cx="964.0" cy="698.0" r="4.4"/>
<ellipse cx="969.7" cy="711.2" rx="2.0" ry="6.8" transform="rotate(66.6 969.7 711.2)"/>
<ellipse cx="971.4" cy="715.1" rx="2.0" ry="6.8" transform="rotate(66.6 971.4 715.1)"/>
<ellipse cx="973.1" cy="719.0" rx="2.0" ry="6.8" transform="rotate(66.6 973.1 719.0)"/>
<ellipse cx="974.7" cy="722.9" rx="2.0" ry="6.8" transform="rotate(66.6 974.7 722.9)"/>
<ellipse cx="976.4" cy="726.8" rx="2.0" ry="6.8" transform="rotate(66.6 976.4 726.8)"/>
<ellipse cx="978.1" cy="730.7" rx="2.0" ry="6.8" transform="rotate(66.6 978.1 730.7)"/>
<ellipse cx="979.8" cy="734.6" rx="2.0" ry="6.8" transform="rotate(66.6 979.8 734.6)"/>
<ellipse cx="981.5" cy="738.5" rx="2.0" ry="6.8" transform="rotate(66.6 981.5 738.5)"/>
<path d="M981.5,738.5 L983.0,742.0"/>
<circle cx="983.0" cy="742.0" r="2.8"/>
<path d="M861.3,664.0 L890.3,678.0 Q892.5,677.2 891.7,675.0 L862.7,661.0 Q860.5,661.8 861.3,664.0 Z"/>
<circle cx="863.8" cy="663.4" r="0.8"/><circle cx="889.2" cy="675.6" r="0.8"/>
<path d="M918.0,697.3 L946.5,685.3 Q947.3,683.5 945.5,682.7 L917.0,694.7 Q916.2,696.5 918.0,697.3 Z"/>
<path d="M934.0,704.3 L961.5,692.8 Q962.3,691.0 960.5,690.2 L933.0,701.7 Q932.2,703.5 934.0,704.3 Z"/>
<path d="M952.5,733.0 L976.5,744.0 Q978.0,743.5 977.5,742.0 L953.5,731.0 Q952.0,731.5 952.5,733.0 Z"/>
<g fill="#b8121c" stroke="#5a0508" stroke-width="0.8">
<path d="M890,689 Q893,686 897,688 L896,692 L892,693 Z"/>
<circle cx="903.5" cy="700" r="3"/><circle cx="881.5" cy="709.5" r="3"/><path d="M891,717 Q894,713 897,716 L896,720 L891,720 Z"/>
<ellipse cx="913.5" cy="713.5" rx="5.5" ry="6.5" transform="rotate(-20 913.5 713.5)"/>
<ellipse cx="928.5" cy="720.5" rx="4" ry="5" transform="rotate(-20 928.5 720.5)"/>
<path d="M937,723 L944,720.5 Q948,726 946,731 L941,732 Q937,728 937,723 Z"/>
</g>
<circle cx="928.5" cy="720.5" r="1.6" fill="#fff" stroke="none"/>
<g stroke="#222" stroke-width="2.2" stroke-linecap="butt"><path d="M883.5,699.5 L887.5,702 M902.5,708.5 L906.5,710.5 M998,735 L1001.5,733.5 M1016,740 L1019.5,738.5 M953.5,614.5 L957.5,613.5"/></g>
<!-- M: front gearbox, shocks, pins -->
<g transform="translate(640 680) scale(0.125)">
<path d="M1160,182 C1180,172 1220,192 1215,222 L1230,242 V282 L1150,287 L1140,252 L1170,232 Z"/>
<path d="M1172,118 C1162,108 1182,98 1202,108 L1382,198 L1402,222 L1392,232 L1362,212 L1182,138 Z"/>
<path d="M1340,282 L1400,242 L1430,252 V312 L1350,322 Z M1400,242 L1410,300"/>
<path d="M1408,352 V488 M1424,352 V488 M1408,352 H1424 M1408,488 H1424"/>

</g>
<path d="M665.1,742.4 L654.7,766.4 M674.6,746.6 L664.2,770.6"/>
<circle cx="670.5" cy="743.0" r="4.6"/>
<ellipse cx="666.3" cy="752.6" rx="2.1" ry="7.1" transform="rotate(113.4 666.3 752.6)"/>
<ellipse cx="665.0" cy="755.8" rx="2.1" ry="7.1" transform="rotate(113.4 665.0 755.8)"/>
<ellipse cx="663.6" cy="759.0" rx="2.1" ry="7.1" transform="rotate(113.4 663.6 759.0)"/>
<ellipse cx="662.2" cy="762.1" rx="2.1" ry="7.1" transform="rotate(113.4 662.2 762.1)"/>
<ellipse cx="660.8" cy="765.3" rx="2.1" ry="7.1" transform="rotate(113.4 660.8 765.3)"/>
<ellipse cx="659.5" cy="768.5" rx="2.1" ry="7.1" transform="rotate(113.4 659.5 768.5)"/>
<path d="M659.5,768.5 L657.5,773.0"/>
<circle cx="657.5" cy="773.0" r="2.9"/>
<g>
<ellipse cx="695.5" cy="738.5" rx="2" ry="3"/>
<path d="M693.6,747.3 L703.8,744.6 L704.9,749.5 L695.1,752.5 Z M694,745.5 L702.5,743"/>
<path d="M694.3,744.8 L702.8,742.3" stroke-width="2" stroke="#333"/>
<ellipse cx="700.8" cy="755.1" rx="4.2" ry="1.7" transform="rotate(-15 700.8 755.1)" stroke-width="1.6"/>
<ellipse cx="701.9" cy="759.6" rx="4.8" ry="1.7" transform="rotate(-15 701.9 759.6)" stroke-width="2"/>
<ellipse cx="704.2" cy="764" rx="6.5" ry="1.9" transform="rotate(-15 704.2 764)"/>
<ellipse cx="704.8" cy="766.8" rx="6.8" ry="1.9" transform="rotate(-15 704.8 766.8)"/>
<ellipse cx="705.3" cy="769.6" rx="6.8" ry="1.9" transform="rotate(-15 705.3 769.6)"/>
<ellipse cx="705.8" cy="772.4" rx="6.5" ry="1.9" transform="rotate(-15 705.8 772.4)" stroke-width="1.6"/>
<path d="M697.5,764 L699.5,773 M710.8,761 L712.3,771"/>
<path d="M705.2,776.5 L711,796 M707,776 L712.8,795.5"/>
<path d="M711.3,795.5 L714,800" stroke-width="2.6" stroke="#222"/>
<circle cx="712.8" cy="802.8" r="2.2"/><circle cx="714.2" cy="806.5" r="1.8"/>
</g>
<path d="M720.5,778.7 L750.0,766.2 Q750.7,764.5 749.0,763.8 L719.5,776.3 Q718.8,778.0 720.5,778.7 Z"/>
<path d="M736.5,786.2 L765.5,773.7 Q766.2,772.0 764.5,771.3 L735.5,783.8 Q734.8,785.5 736.5,786.2 Z"/>
<path d="M745.7,788.9 L770.2,802.4 Q772.4,801.8 771.8,799.6 L747.3,786.1 Q745.1,786.7 745.7,788.9 Z"/>
<circle cx="748.2" cy="788.4" r="0.8"/><circle cx="769.3" cy="800.1" r="0.8"/>
<path d="M739.4,804.0 L764.4,814.5 Q766.5,813.6 765.6,811.5 L740.6,801.0 Q738.5,801.9 739.4,804.0 Z"/>
<circle cx="741.8" cy="803.2" r="0.8"/><circle cx="763.2" cy="812.3" r="0.8"/>
<g stroke="#222" stroke-width="2.4" stroke-linecap="butt"><path d="M714,740 L720,737 M732.5,754.5 L739.5,751.3 M801,730 V735 M802.5,739 V744 M791,784 L798,781.3 M777.5,797.5 L782.5,794.4 M791.5,790 L795,789"/></g>
<!-- N: front bumper, long shock lower, battery, pinion -->
<g transform="translate(580 780) scale(0.13776)">
<path d="M135,285 C140,260 175,260 180,280 L230,330 L420,455 L450,470 L480,480 L620,530 L650,540 L720,600 L780,650 L790,690 L760,760 L850,830 L940,880 C950,905 935,925 905,920 L580,760 C560,740 420,650 400,600 L370,520 L140,310 Z"/>
<path d="M160,292 L370,492 M220,320 C232,310 252,322 240,345 M300,402 L340,392 M360,472 L450,457 L460,482 L380,502 Z M410,532 L470,562 L490,602 L430,582 Z M500,602 L560,632 L570,672 L510,652 Z M520,572 L640,537 L660,592 L600,642 M600,622 L720,602 L730,652 L640,702 M640,702 L790,652 M580,722 L600,762 M850,832 C860,822 872,832 870,852 M735,645 C750,630 790,640 785,690"/>
<path d="M1230,628 L1420,522 C1520,505 1565,600 1520,682 L1295,772"/>
<ellipse cx="1230" cy="700" rx="78" ry="72" transform="rotate(-25 1230 700)"/>
<path d="M1318,405 V540 M1332,405 V540"/>
<path d="M1080,705 L1140,690 L1148,720 L1090,735 Z M1095,700 L1100,730"/>
<path d="M1125,775 C1125,760 1150,760 1150,775 L1165,830 C1165,845 1125,848 1120,835 Z"/>
<ellipse cx="1400" cy="782" rx="24" ry="38"/><ellipse cx="1400" cy="782" rx="12" ry="22"/>
<path d="M1440,762 L1597,690 M1448,782 L1597,712 M1440,762 C1432,770 1440,785 1448,782"/>
<circle cx="1310" cy="812" r="36" stroke-dasharray="5 4" stroke-width="2"/><circle cx="1310" cy="812" r="24"/>
<path d="M1430,120 L1597,60 M1430,120 V180 L1520,230 L1597,200 M1470,140 V200"/>
</g>
<g stroke="#444" stroke-width="1"><path d="M717.5,818.5 L724.5,816.5 L728.5,833 L721.5,835.5 Z"/></g>
<g stroke-width="1.3"><ellipse cx="723.3" cy="839.2" rx="5.2" ry="1.6" transform="rotate(-12 723.3 839.2)"/><ellipse cx="723.9" cy="842.3" rx="5.2" ry="1.6" transform="rotate(-12 723.9 842.3)"/><ellipse cx="724.5" cy="845.4" rx="5.2" ry="1.6" transform="rotate(-12 724.5 845.4)"/><ellipse cx="725.2" cy="848.5" rx="5.2" ry="1.6" transform="rotate(-12 725.2 848.5)"/><ellipse cx="725.8" cy="851.6" rx="5.2" ry="1.6" transform="rotate(-12 725.8 851.6)"/><ellipse cx="726.4" cy="854.7" rx="5.2" ry="1.6" transform="rotate(-12 726.4 854.7)"/><ellipse cx="727.0" cy="857.8" rx="5.2" ry="1.6" transform="rotate(-12 727.0 857.8)"/><ellipse cx="727.6" cy="860.9" rx="5.2" ry="1.6" transform="rotate(-12 727.6 860.9)"/><ellipse cx="728.3" cy="864.0" rx="5.2" ry="1.6" transform="rotate(-12 728.3 864.0)"/><ellipse cx="728.9" cy="867.1" rx="5.2" ry="1.6" transform="rotate(-12 728.9 867.1)"/><ellipse cx="729.5" cy="870.2" rx="5.2" ry="1.6" transform="rotate(-12 729.5 870.2)"/></g>
<g stroke="#222" stroke-width="2.4" stroke-linecap="butt"><path d="M710,796 L711.5,800 M711.5,815.5 L720.5,813 M750,897.5 L756,895"/></g>
<!-- O: battery tray, ESC, box, spur, chassis -->
<g transform="translate(760 780) scale(0.125)">
<path d="M130,150 L480,35 L560,60 L600,100 V130 L240,262 L130,202 Z M240,262 V205 L600,100 M180,140 L540,55 M200,168 L332,122 L402,160 L252,215 Z M130,150 L240,205"/>
<path d="M250,312 L600,172 L680,242 L330,372 Z M300,300 L560,200 M320,330 L600,230 M330,250 H360 V280 H330 Z M420,230 H450 V260 H420 Z M480,200 H510 V240 H480 Z M530,180 H560 V220 H530 Z M360,300 H400 V330 H360 Z"/>
<path d="M290,432 L640,292 L760,382 L780,482 L740,502 V542 L390,712 L340,682 L330,602 Z M290,432 L400,482 L752,372 M400,482 V602 M330,602 L725,472 M680,320 L700,360"/>
<path d="M490,582 L700,522 M490,602 L700,542 M490,622 L700,562 M490,642 L700,582"/>
<path d="M380,622 L460,602 V662 L392,690 Z M690,430 V500 M710,420 V490 M730,410 V480 M750,400 V470"/>
<path d="M250,462 C240,480 250,500 265,495 L262,560 M255,470 L290,455"/>
<path d="M150,822 L842,542 M162,848 L852,565 M150,822 C140,835 150,850 162,848"/>
<ellipse cx="100" cy="862" rx="30" ry="36"/><ellipse cx="100" cy="862" rx="15" ry="20"/>
<ellipse cx="1012" cy="482" rx="70" ry="97" stroke-dasharray="5 3" stroke-width="2.4" transform="rotate(-12 1012 482)"/>
<ellipse cx="1012" cy="482" rx="62" ry="88" fill="#3a3a3a" transform="rotate(-12 1012 482)"/>
<g fill="#fff" stroke="#666"><path d="M990,410 L1030,415 L1012,460 Z"/><path d="M1055,455 L1065,500 L1025,480 Z"/><path d="M1040,545 L1005,565 L1012,510 Z"/><path d="M970,545 L955,500 L995,505 Z"/><path d="M955,440 L975,405 L995,470 Z"/></g>
<ellipse cx="1008" cy="485" rx="16" ry="22" fill="#fff"/>
<ellipse cx="910" cy="530" rx="30" ry="45" transform="rotate(-10 910 530)"/><ellipse cx="910" cy="530" rx="14" ry="24"/>
<ellipse cx="1105" cy="442" rx="30" ry="40"/><ellipse cx="1105" cy="442" rx="14" ry="20"/>
<circle cx="1192" cy="410" r="36" stroke-dasharray="5 4" stroke-width="2"/><circle cx="1182" cy="415" r="22"/>
<path d="M940,630 C950,600 1000,590 1040,600 L1060,580 L1110,560 L1150,555 L1230,600 L1240,660 L1200,690 L1130,745 L1080,730 L1050,700 L960,660 Z M1040,600 C1040,650 1090,660 1110,620 L1110,560 M1150,560 L1130,680 L1130,745 M1150,640 C1160,620 1190,630 1180,660 L1230,640 M960,660 L1080,690 L1130,680"/>
<path d="M910,95 L1130,195 M905,115 L1122,212"/>
<circle cx="908" cy="90" r="14"/><circle cx="1132" cy="202" r="14"/>
<path d="M1310,212 C1320,172 1370,162 1400,182 L1432,272 L1372,302 C1332,302 1300,262 1310,212 Z M1390,150 V200"/>
<circle cx="1395" cy="262" r="24"/><circle cx="1395" cy="262" r="10"/>





</g>
<g fill="#222" stroke="none"><path d="M866,900.5 L882,894.5 L883.5,898 L867.5,904 Z"/></g>
<g stroke="#222" stroke-width="2.4" stroke-linecap="butt"><path d="M901.5,895 V900 M912,899.5 V904 M916,828.5 L920,827 M777,795.5 L782,794"/></g>

<g stroke="#222" stroke-width="2.4" stroke-linecap="butt"><path d="M784.5,926 V930.5 M794.5,930.5 V935 M842,933 V937.5 M853,929 V933.5"/></g>
<g stroke="#555" stroke-width="0.8"><ellipse cx="784.5" cy="931.5" rx="2" ry="1"/><ellipse cx="794.5" cy="936" rx="2" ry="1"/><ellipse cx="842" cy="938.5" rx="2.2" ry="1.1"/><ellipse cx="853" cy="934.5" rx="2.2" ry="1.1"/><ellipse cx="902" cy="900.5" rx="2" ry="1"/><ellipse cx="912.2" cy="905" rx="2" ry="1"/></g>
<!-- Q: rear right wheels -->
<g id="tires2" stroke="#555">
<path d="M1120.1,830.6 L1118.1,830.6 L1116.0,830.4 L1114.0,830.1 L1112.1,829.5 L1110.1,828.8 L1108.3,827.9 L1106.5,826.8 L1104.9,825.6 L1103.3,824.3 L1101.9,822.8 L1100.6,821.2 L1099.5,819.4 L1098.5,817.6 L1097.7,815.7 L1097.0,813.7 L1096.5,811.7 L1096.2,809.6 L1096.1,807.5 L1096.1,805.4 L1096.3,803.3 L1096.7,801.2 L1097.3,799.1 L1098.0,797.1 L1098.9,795.2 L1100.0,793.4 L1101.2,791.6 L1102.6,790.0 L1104.0,788.5 L1105.6,787.2 L1107.3,785.9 L1109.1,784.9 L1111.0,784.0 L1113.0,783.3 L1114.9,782.7 L1117.0,782.3 L1119.0,782.1 L1121.1,782.1 L1123.1,782.3 L1125.1,782.7 L1127.1,783.2 L1129.0,783.9 L1130.8,784.8 L1132.6,785.9 L1134.3,787.1"/>
<ellipse cx="1132.5" cy="809.5" rx="10.5" ry="23.4" fill="#fff" transform="rotate(18 1132.5 809.5)"/>
<ellipse cx="1132.0" cy="810.2" rx="8.4" ry="15.4" transform="rotate(18 1132.0 810.2)"/>
<ellipse cx="1132.6" cy="810.2" rx="7.3" ry="14.0" transform="rotate(18 1132.0 810.2)"/>
<path stroke-width="0.85" d="M1121.9,828.7 L1108.6,823.8 L1107.2,821.4 L1121.2,826.9 Z M1120.7,825.3 L1106.4,819.3 L1105.7,816.5 L1120.3,823.0 Z M1120.2,821.0 L1105.3,814.1 L1105.2,811.1 L1120.2,818.2 Z M1120.4,815.9 L1105.4,808.6 L1105.9,805.4 L1120.8,812.9 Z M1121.3,810.5 L1106.6,802.9 L1107.7,799.9 L1122.1,807.5 Z M1122.9,805.1 L1108.9,797.6 L1110.5,794.8 L1124.1,802.1 Z M1125.1,799.9 L1112.1,792.8 L1114.2,790.5 L1126.5,797.2 Z M1127.7,795.2 L1116.0,788.9 L1118.4,787.2 L1129.3,793.0 Z M1130.6,791.5 L1120.4,786.1 L1123.0,785.1 L1132.2,789.8 Z M1133.6,788.7 L1125.1,784.6 L1127.7,784.4 L1135.2,787.8 Z"/>
<path stroke-width="0.85" d="M1106.0,822.9 L1101.0,821.0 L1099.4,818.3 L1104.5,820.3 Z M1103.7,818.2 L1098.4,816.0 L1097.4,812.8 L1102.8,815.2 Z M1102.5,812.8 L1097.0,810.3 L1096.8,807.0 L1102.3,809.7 Z M1102.5,807.1 L1096.9,804.4 L1097.5,801.2 L1103.1,803.9 Z M1103.8,801.5 L1098.3,798.7 L1099.6,795.6 L1105.0,798.4 Z M1106.1,796.1 L1100.9,793.4 L1102.9,790.7 L1107.9,793.4 Z M1109.5,791.5 L1104.7,788.8 L1107.2,786.8 L1111.8,789.2 Z M1113.7,787.7 L1109.4,785.4 L1112.3,784.0 L1116.3,786.1 Z M1118.4,785.1 L1114.7,783.1 L1117.8,782.5 L1121.2,784.2 Z M1123.4,783.8 L1120.3,782.3 L1123.4,782.5 L1126.2,783.7 Z M1105.4,823.1 L1104.5,821.8 M1102.7,818.4 L1102.2,816.8 M1101.3,812.9 L1101.1,811.2 M1101.0,807.2 L1101.2,805.4 M1102.1,801.4 L1102.6,799.7 M1104.3,796.0 L1105.2,794.4 M1107.6,791.2 L1108.8,789.9 M1111.7,787.3 L1113.1,786.4 M1116.5,784.6 L1118.0,784.1"/>
<path d="M1135.5,826.3 L1133.7,826.5 M1133.6,828.4 L1131.1,828.5 M1131.7,830.1 L1128.3,830.0 M1129.7,831.3 L1125.6,830.9 M1127.9,831.9 L1122.8,831.2 M1126.2,832.0 L1120.1,831.0 M1124.6,831.5 L1117.6,830.2 M1123.2,830.5 L1115.2,828.9 M1136.3,787.3 L1128.1,784.7 M1138.1,787.0 L1130.8,784.7 M1139.7,787.2 L1133.4,785.2 M1141.2,788.0 L1135.8,786.3 M1142.5,789.3 L1138.0,788.0 M1143.5,791.1 L1139.9,790.1 M1144.2,793.4 L1141.5,792.6 M1144.7,796.1 L1142.7,795.6"/>
<path d="M1016.6,872.3 L1014.6,872.3 L1012.5,872.1 L1010.5,871.8 L1008.6,871.2 L1006.6,870.5 L1004.8,869.6 L1003.0,868.6 L1001.4,867.4 L999.8,866.0 L998.4,864.5 L997.1,862.9 L996.0,861.2 L995.0,859.3 L994.2,857.4 L993.5,855.4 L993.0,853.4 L992.7,851.3 L992.6,849.2 L992.6,847.1 L992.8,845.0 L993.2,842.9 L993.8,840.8 L994.5,838.9 L995.4,836.9 L996.5,835.1 L997.7,833.4 L999.1,831.7 L1000.5,830.2 L1002.1,828.9 L1003.8,827.7 L1005.6,826.6 L1007.5,825.7 L1009.5,825.0 L1011.4,824.4 L1013.5,824.0 L1015.5,823.9 L1017.6,823.9 L1019.6,824.0 L1021.6,824.4 L1023.6,824.9 L1025.5,825.7 L1027.3,826.5 L1029.1,827.6 L1030.8,828.8"/>
<ellipse cx="1029.0" cy="851.0" rx="10.5" ry="23.4" fill="#fff" transform="rotate(18 1029.0 851.0)"/>
<ellipse cx="1028.5" cy="851.7" rx="8.4" ry="15.4" transform="rotate(18 1028.5 851.7)"/>
<ellipse cx="1029.1" cy="851.7" rx="7.3" ry="14.0" transform="rotate(18 1028.5 851.7)"/>
<path stroke-width="0.85" d="M1018.4,870.2 L1005.1,865.4 L1003.7,863.0 L1017.7,868.4 Z M1017.2,866.8 L1002.9,861.0 L1002.2,858.1 L1016.8,864.5 Z M1016.7,862.5 L1001.8,855.8 L1001.7,852.7 L1016.7,859.7 Z M1016.9,857.4 L1001.9,850.2 L1002.4,847.0 L1017.3,854.4 Z M1017.8,852.0 L1003.1,844.6 L1004.2,841.5 L1018.6,849.0 Z M1019.4,846.6 L1005.4,839.2 L1007.0,836.5 L1020.6,843.6 Z M1021.6,841.4 L1008.6,834.5 L1010.7,832.2 L1023.0,838.7 Z M1024.2,836.7 L1012.5,830.6 L1014.9,828.9 L1025.8,834.5 Z M1027.1,833.0 L1016.9,827.8 L1019.5,826.8 L1028.7,831.3 Z M1030.1,830.2 L1021.6,826.3 L1024.2,826.0 L1031.7,829.3 Z"/>
<path stroke-width="0.85" d="M1002.5,864.5 L997.5,862.8 L995.9,860.0 L1001.0,862.0 Z M1000.2,859.8 L994.9,857.7 L993.9,854.6 L999.3,856.9 Z M999.0,854.5 L993.5,852.0 L993.3,848.7 L998.8,851.3 Z M999.0,848.8 L993.4,846.1 L994.0,842.9 L999.6,845.6 Z M1000.3,843.1 L994.8,840.4 L996.1,837.3 L1001.5,840.1 Z M1002.6,837.8 L997.4,835.1 L999.4,832.4 L1004.4,835.1 Z M1006.0,833.1 L1001.2,830.6 L1003.7,828.5 L1008.3,830.9 Z M1010.2,829.4 L1005.9,827.1 L1008.8,825.7 L1012.8,827.8 Z M1014.9,826.8 L1011.2,824.9 L1014.3,824.2 L1017.7,825.9 Z M1019.9,825.5 L1016.8,824.0 L1019.9,824.2 L1022.7,825.4 Z M1001.9,864.8 L1001.0,863.4 M999.2,860.0 L998.7,858.5 M997.8,854.6 L997.6,852.9 M997.5,848.8 L997.7,847.1 M998.6,843.1 L999.1,841.4 M1000.8,837.6 L1001.7,836.1 M1004.1,832.8 L1005.3,831.6 M1008.2,829.0 L1009.6,828.1 M1013.0,826.3 L1014.5,825.8"/>
<path d="M1032.0,867.8 L1030.2,868.1 M1030.1,869.9 L1027.6,870.1 M1028.2,871.6 L1024.8,871.6 M1026.2,872.8 L1022.1,872.5 M1024.4,873.4 L1019.3,872.8 M1022.7,873.5 L1016.6,872.6 M1021.1,873.0 L1014.1,871.8 M1019.7,872.0 L1011.7,870.5 M1032.8,828.8 L1024.6,826.3 M1034.6,828.5 L1027.3,826.3 M1036.2,828.7 L1029.9,826.8 M1037.7,829.5 L1032.3,827.9 M1039.0,830.8 L1034.5,829.6 M1040.0,832.6 L1036.4,831.7 M1040.7,834.9 L1038.0,834.3 M1041.2,837.6 L1039.2,837.2"/>
</g>
<path stroke-width="2" d="M1059.8,801.7 L1058.9,801.9 L1058.1,801.7 L1057.3,801.2 L1056.6,800.3 L1056.0,799.2 L1055.5,797.9 L1055.1,796.2 L1054.8,794.4 L1054.7,792.4 L1054.6,790.3 L1054.7,788.1 L1054.9,785.8 L1055.2,783.5 L1055.7,781.3 L1056.2,779.1 L1056.8,777.1 L1057.5,775.2 L1058.3,773.5 L1059.2,772.1 L1060.0,770.9 L1060.9,770.0 L1061.8,769.4 L1062.7,769.2 L1063.5,769.2 L1064.3,769.6"/>
<ellipse cx="1062.0" cy="785.5" rx="5.4" ry="15.8" transform="rotate(8 1061.0 785.5)"/>
<path d="M1062.0,769.0 L1080.6,775.4 M1062.0,802.0 L1080.6,807.6"/>
<ellipse cx="1082.6" cy="791.5" rx="11.0" ry="16.4" fill="#fff" transform="rotate(8 1082.6 791.5)"/>
<ellipse cx="1082.6" cy="791.5" rx="9.7" ry="14.8" transform="rotate(8 1082.6 791.5)"/>
<path stroke-width="1.1" d="M1084.9,792.6 Q1087.4,793.0 1091.9,791.5 M1084.9,792.6 Q1087.2,794.3 1090.3,799.4 M1082.6,795.1 Q1083.1,798.8 1085.5,804.8 M1082.6,795.1 Q1082.2,798.9 1080.0,804.9 M1080.3,792.7 Q1078.1,794.5 1075.0,799.7 M1080.3,792.7 Q1077.8,793.2 1073.3,791.9 M1081.1,788.6 Q1079.3,786.0 1075.0,783.3 M1081.1,788.6 Q1080.0,785.2 1079.5,778.4 M1084.0,788.6 Q1085.1,785.1 1085.5,778.2 M1084.0,788.6 Q1085.8,785.9 1090.0,783.0"/>
<ellipse cx="1082.6" cy="791.5" rx="2.4" ry="3.6" stroke-width="1.4"/>
<path stroke-width="2" d="M956.3,843.7 L955.4,843.9 L954.6,843.7 L953.8,843.2 L953.1,842.3 L952.5,841.2 L952.0,839.9 L951.6,838.2 L951.3,836.4 L951.2,834.4 L951.1,832.3 L951.2,830.1 L951.4,827.8 L951.7,825.5 L952.2,823.3 L952.7,821.1 L953.3,819.1 L954.0,817.2 L954.8,815.5 L955.7,814.1 L956.5,812.9 L957.4,812.0 L958.3,811.4 L959.2,811.2 L960.0,811.2 L960.8,811.6"/>
<ellipse cx="958.5" cy="827.5" rx="5.4" ry="15.8" transform="rotate(8 957.5 827.5)"/>
<path d="M958.5,811.0 L977.2,817.0 M958.5,844.0 L977.2,849.2"/>
<ellipse cx="979.2" cy="833.1" rx="11.0" ry="16.4" fill="#fff" transform="rotate(8 979.2 833.1)"/>
<ellipse cx="979.2" cy="833.1" rx="9.7" ry="14.8" transform="rotate(8 979.2 833.1)"/>
<path stroke-width="1.1" d="M981.5,834.2 Q984.0,834.6 988.6,833.1 M981.5,834.2 Q983.8,835.9 986.9,841.0 M979.2,836.7 Q979.7,840.4 982.1,846.4 M979.2,836.7 Q978.8,840.5 976.6,846.5 M976.9,834.3 Q974.7,836.1 971.6,841.3 M976.9,834.3 Q974.4,834.8 969.9,833.5 M977.7,830.2 Q975.9,827.6 971.6,824.9 M977.7,830.2 Q976.6,826.8 976.1,820.0 M980.6,830.2 Q981.7,826.7 982.1,819.8 M980.6,830.2 Q982.4,827.5 986.6,824.6"/>
<ellipse cx="979.2" cy="833.1" rx="2.4" ry="3.6" stroke-width="1.4"/>
<g transform="translate(950 720) scale(0.13125)">
<path d="M290,200 C280,170 300,150 320,160 L330,200 C370,220 390,260 385,320 L340,370 C300,380 280,360 275,330 L270,260 Z M310,180 L340,260"/>
<ellipse cx="350" cy="290" rx="30" ry="45"/><ellipse cx="350" cy="290" rx="14" ry="24"/>
<ellipse cx="425" cy="330" rx="35" ry="42" transform="rotate(-15 425 330)"/><ellipse cx="425" cy="330" rx="18" ry="25"/>
<path d="M472,340 C468,320 490,310 510,320 L560,350 L565,385 L530,392 L480,370 Z"/>
<path d="M652,398 L680,392 L695,418 L675,440 L645,438 L635,415 Z M655,410 L675,425"/>
<path d="M740,438 L770,432 L782,458 L765,478 L738,475 L728,452 Z"/>
<path d="M555,290 V330 M545,295 H565"/>

<path d="M230,100 C250,110 260,140 240,160 M205,95 L240,80"/>
</g>
<path d="M1017.4,752.5 L1033.1,746.0 Q1033.7,744.6 1032.3,744.0 L1016.6,750.5 Q1016.0,751.9 1017.4,752.5 Z"/>
<g stroke="#222" stroke-width="2.4" stroke-linecap="butt"><path d="M1024,770 L1028.5,772.5 M994.6,737 L1002.5,733.1 M1011.7,741.7 L1019.6,738.4"/></g>
<!-- P: chassis -->
<g transform="translate(780 860) scale(0.0875)">
<path d="M50,690 L140,745 L400,660 C450,690 500,710 600,700 L790,630 L1300,440 L1340,420 L1345,360 L1510,240 L1410,180 L1200,250 L1120,170 L1060,150 L960,180 L440,400 L360,430 L320,415 C270,410 240,440 240,480 L245,560 L280,600 L250,610 L50,690 Z"/>
<path d="M280,600 L400,560 M300,470 L360,440 M290,520 L380,500"/>
<path d="M140,745 L60,700 M250,610 L400,560 M400,660 L420,600 L520,560 M360,440 C390,470 400,520 380,560 M440,400 L470,360 C480,340 500,340 500,360 M520,560 L1280,290 M520,600 L1300,340 M780,630 V560 L700,520 L640,540 M1200,250 L1330,310 M1330,310 L1340,420 M1230,240 L1420,200 M1250,270 L1440,215 M960,180 L990,250 L1000,300 M1060,150 L1100,330 L1160,320 L1200,400 M1120,170 L1150,250 M1250,360 L1300,440"/>
<path d="M690,225 C690,210 720,210 720,225 V440 C720,450 690,450 690,440 Z M900,350 V420 M930,345 V415 M760,420 V480 M780,415 V475 M600,600 V650 M620,595 V645"/>
<path d="M985,490 L1160,425 L1185,450 L1005,515 Z" fill="#222"/>
<path d="M690,770 L830,725 L860,740 L720,790 Z M700,785 L690,770"/>
<path d="M150,650 L400,570 M170,680 L380,610 M1250,250 L1480,220"/>
<ellipse cx="940" cy="310" rx="8" ry="5"/><ellipse cx="990" cy="295" rx="8" ry="5"/><ellipse cx="840" cy="355" rx="8" ry="5"/>
</g>
<g stroke="#222" stroke-width="2.4" stroke-linecap="butt"><path d="M784.4,925.5 V930.5 M794.4,930.5 V935 M842,932.5 V937.5 M853,929 V933.5"/></g>
<g stroke="#555" stroke-width="0.8"><ellipse cx="784.5" cy="931.5" rx="2" ry="1"/><ellipse cx="794.5" cy="936" rx="2" ry="1"/><ellipse cx="842" cy="938.5" rx="2.2" ry="1.1"/><ellipse cx="853" cy="934.5" rx="2.2" ry="1.1"/><ellipse cx="902" cy="900.5" rx="2" ry="1"/><ellipse cx="912.2" cy="905" rx="2" ry="1"/></g>
</g>
</svg>
</body></html>
